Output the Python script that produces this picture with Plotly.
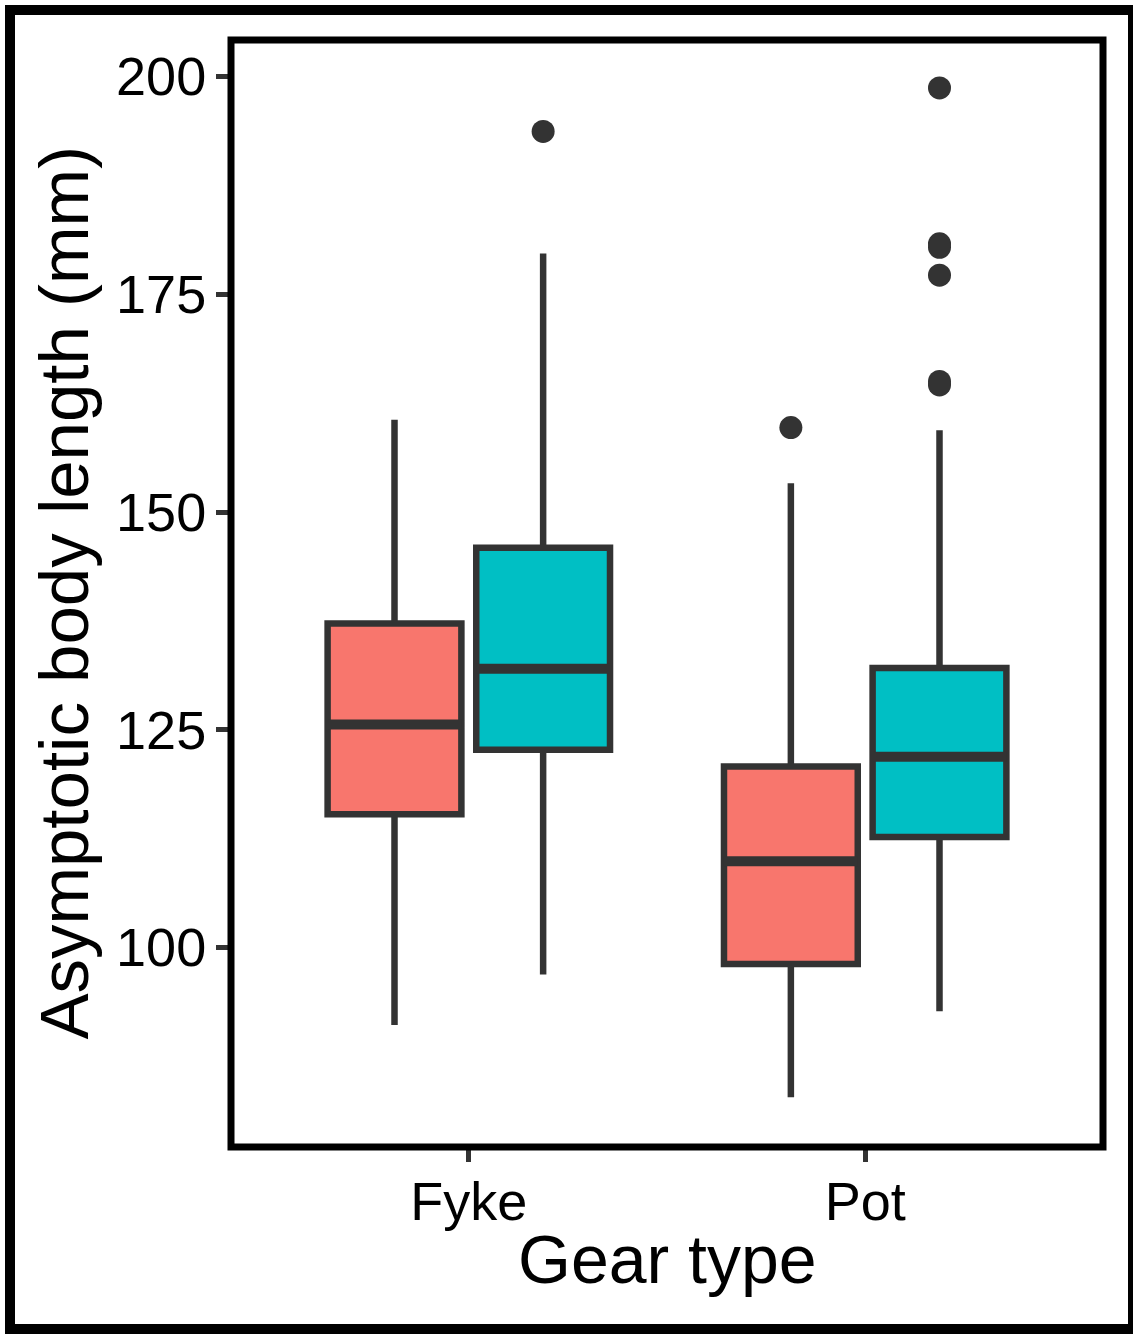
import plotly.graph_objects as go

# ---- data ----
gear_types = ["Fyke", "Pot"]
gear_pos = [1, 2]
groups = ["group A", "group B"]
colors = ["#F8766D", "#00BFC4"]

# per group: values for [Fyke, Pot]
q1 = {"group A": [115.3, 98.1], "group B": [122.7, 112.7]}
median = {"group A": [125.6, 109.9], "group B": [132.0, 121.9]}
q3 = {"group A": [137.2, 120.8], "group B": [145.9, 132.1]}
lowerfence = {"group A": [91.1, 82.8], "group B": [96.9, 92.7]}
upperfence = {"group A": [160.6, 153.3], "group B": [179.7, 159.4]}
outliers = {
    "group A": {"Fyke": [], "Pot": [159.7]},
    "group B": {"Fyke": [193.7], "Pot": [198.7, 180.8, 180.4, 177.2, 165.0, 164.6]},
}

y_ticks = [100, 125, 150, 175, 200]

# ---- layout constants ----
dodge = 0.1875
box_w = 0.3375
line_col = "#333333"
font_family = "Liberation Sans, Arial, Helvetica, sans-serif"

fig = go.Figure()

for gi, g in enumerate(groups):
    off = -dodge if gi == 0 else dodge
    xs = [p + off for p in gear_pos]
    fig.add_trace(go.Box(
        x=xs, q1=q1[g], median=median[g], q3=q3[g],
        lowerfence=lowerfence[g], upperfence=upperfence[g],
        width=box_w, whiskerwidth=0, boxpoints=False,
        fillcolor=colors[gi], line=dict(color=line_col, width=6.5),
        showlegend=False, hoverinfo="skip",
    ))
    # thicker median line (ggplot fatten)
    for xi, m in zip(xs, median[g]):
        fig.add_trace(go.Scatter(
            x=[xi - box_w / 2, xi + box_w / 2], y=[m, m], mode="lines",
            line=dict(color=line_col, width=10), showlegend=False, hoverinfo="skip",
        ))
    ox, oy = [], []
    for gt, p in zip(gear_types, gear_pos):
        for v in outliers[g][gt]:
            ox.append(p + off)
            oy.append(v)
    if ox:
        fig.add_trace(go.Scatter(
            x=ox, y=oy, mode="markers",
            marker=dict(color=line_col, size=23, line=dict(width=0)),
            showlegend=False, hoverinfo="skip",
        ))

W, H = 1133, 1334
L, R, T, B = 231, 30, 40, 187
pw, ph = W - L - R, H - T - B

def px_to_paper_x(px):
    return (px - L) / pw

def px_to_paper_y(py):
    return (H - B - py) / ph

fig.update_layout(
    width=W, height=H,
    margin=dict(l=L, r=R, t=T, b=B, pad=0),
    paper_bgcolor="white", plot_bgcolor="white",
    font=dict(family=font_family, color="black"),
    xaxis=dict(
        range=[0.4, 2.6], tickvals=gear_pos, ticktext=gear_types,
        showgrid=False, zeroline=False, showline=False,
        ticks="outside", ticklen=14, tickwidth=5, tickcolor=line_col,
        tickfont=dict(size=54, color="black", family=font_family),
        ticklabelstandoff=-7,
    ),
    yaxis=dict(
        range=[77.1, 204.2], tickvals=y_ticks,
        showgrid=False, zeroline=False, showline=False,
        ticks="outside", ticklen=14, tickwidth=5, tickcolor=line_col,
        tickfont=dict(size=54, color="black", family=font_family),
        ticklabelstandoff=-1,
    ),
    shapes=[
        # panel border
        dict(type="rect", xref="paper", yref="paper", x0=0, x1=1, y0=0, y1=1,
             line=dict(color="black", width=7), layer="above"),
        # outer frame
        dict(type="rect", xref="paper", yref="paper",
             x0=px_to_paper_x(10), x1=px_to_paper_x(1133),
             y0=px_to_paper_y(1329), y1=px_to_paper_y(10),
             line=dict(color="black", width=10), layer="above"),
    ],
    annotations=[
        dict(text="Gear type", xref="paper", yref="paper", x=0.5, y=px_to_paper_y(1259),
             xanchor="center", yanchor="middle", showarrow=False,
             font=dict(size=68, color="black", family=font_family)),
        dict(text="Asymptotic body length (mm)", xref="paper", yref="paper",
             x=px_to_paper_x(64), y=0.5, textangle=-90,
             xanchor="center", yanchor="middle", showarrow=False,
             font=dict(size=69, color="black", family=font_family)),
    ],
)

fig.write_html("out.html")
